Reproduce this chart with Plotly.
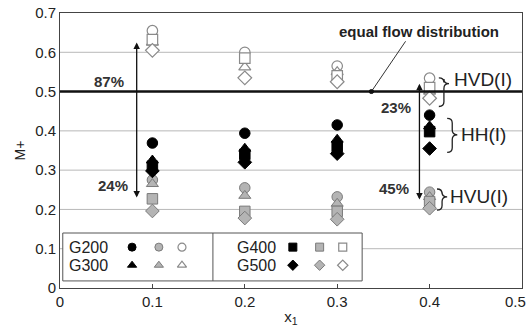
import plotly.graph_objects as go

# ---- data ----
x_vals = [0.1, 0.2, 0.3, 0.4]
groups = ["G200", "G300", "G400", "G500"]
symbols = {"G200": "circle", "G300": "triangle-up", "G400": "square", "G500": "diamond"}

# HH(I): black filled markers
hh = {
    "G200": [0.369, 0.394, 0.415, 0.440],
    "G300": [0.325, 0.355, 0.378, 0.412],
    "G400": [0.310, 0.340, 0.360, 0.398],
    "G500": [0.298, 0.320, 0.342, 0.355],
}
# HVU(I): grey filled markers
hvu = {
    "G200": [0.275, 0.255, 0.232, 0.244],
    "G300": [0.265, 0.235, 0.215, 0.232],
    "G400": [0.227, 0.195, 0.195, 0.220],
    "G500": [0.196, 0.178, 0.175, 0.203],
}
# HVD(I): open markers
hvd = {
    "G200": [0.655, 0.600, 0.565, 0.534],
    "G300": [0.625, 0.562, 0.550, 0.500],
    "G400": [0.632, 0.585, 0.540, 0.510],
    "G500": [0.605, 0.535, 0.525, 0.483],
}
y_ticks = [0, 0.1, 0.2, 0.3, 0.4, 0.5, 0.6, 0.7]
y_labels = ["0", "0.1", "0.2", "0.3", "0.4", "0.5", "0.6", "0.7"]
x_ticks = [0, 0.1, 0.2, 0.3, 0.4]
x_labels = ["0", "0.1", "0.2", "0.3", "0.4"]
x_last_tick, x_last_label = 0.5, "0.5"

BLACK = dict(color="black", line=dict(color="black", width=1))
GREY = dict(color="#b4b4b4", line=dict(color="#7a7a7a", width=1))
WHITE = dict(color="white", line=dict(color="#8a8a8a", width=1.2))

FONT = "Liberation Sans, Arial, sans-serif"
fig = go.Figure()
anns = []
shapes = []

for data, style in [(hvd, WHITE), (hvu, GREY), (hh, BLACK)]:
    for g in groups:
        fig.add_trace(go.Scatter(
            x=x_vals, y=data[g], mode="markers", showlegend=False,
            marker=dict(symbol=symbols[g], size=10.5, **style)))

# custom legend content
leg_rows = [("G200", 0.104, 0.008), ("G300", 0.058, 0.008), ("G400", 0.104, 0.189), ("G500", 0.058, 0.189)]
leg_mx = {0.008: [0.078, 0.107, 0.132], 0.189: [0.252, 0.281, 0.306]}
for g, yy, xx in leg_rows:
    anns.append(dict(x=xx, y=yy, xref="x", yref="y", text=g, showarrow=False, xanchor="left",
                     yanchor="middle", font=dict(family=FONT, size=16, color="#222")))
    for mx, style in zip(leg_mx[xx], [BLACK, GREY, WHITE]):
        fig.add_trace(go.Scatter(x=[mx], y=[yy], mode="markers", showlegend=False,
                                 marker=dict(symbol=symbols[g], size=8, **style)))

# grid lines
for t in y_ticks[1:-1]:
    shapes.append(dict(type="line", xref="x", yref="y", x0=0, x1=0.5, y0=t, y1=t,
                       line=dict(color="#b8b8b8", width=1), layer="below"))
# legend box
shapes.append(dict(type="rect", xref="x", yref="y", x0=0.003, x1=0.327, y0=0.018, y1=0.14,
                   line=dict(color="#555", width=1), fillcolor="white", layer="below"))
shapes.append(dict(type="line", xref="x", yref="y", x0=0.1655, x1=0.1655, y0=0.018, y1=0.14,
                   line=dict(color="#555", width=1)))
# equal flow line
shapes.append(dict(type="line", xref="x", yref="y", x0=0, x1=0.5, y0=0.5, y1=0.5,
                   line=dict(color="#111", width=2.5)))
# pointer line
shapes.append(dict(type="line", xref="x", yref="y", x0=0.337, x1=0.374, y0=0.5, y1=0.628,
                   line=dict(color="#333", width=1)))
shapes.append(dict(type="circle", xref="x", yref="y", x0=0.3345, x1=0.3395, y0=0.495, y1=0.505,
                   line=dict(color="#111", width=1), fillcolor="#111"))

def brace(x0, w, y0, y1, ym, d=0.012):
    xm = x0 + w / 2
    return (f"M {x0},{y1} Q {xm},{y1} {xm},{y1-d} L {xm},{ym+d} Q {xm},{ym} {x0+w},{ym} "
            f"Q {xm},{ym} {xm},{ym-d} L {xm},{y0+d} Q {xm},{y0} {x0},{y0}")

for bx, by0, by1, bym in [(0.410, 0.462, 0.535, 0.52), (0.419, 0.345, 0.432, 0.39), (0.408, 0.198, 0.252, 0.232)]:
    shapes.append(dict(type="path", xref="x", yref="y", path=brace(bx, 0.011, by0, by1, bym),
                       line=dict(color="#222", width=1.3)))

# arrows
for ax_x, ylo, yhi in [(0.083, 0.225, 0.625), (0.389, 0.22, 0.52)]:
    anns.append(dict(x=ax_x, y=yhi, ax=ax_x, ay=ylo, xref="x", yref="y", axref="x", ayref="y",
                     showarrow=True, arrowhead=2, arrowsize=1.0, arrowwidth=1.3, arrowcolor="#111",
                     arrowside="end+start", text=" ", font=dict(size=1)))
for txt, tx, ty in [("87%", 0.053, 0.525), ("24%", 0.057, 0.262), ("23%", 0.364, 0.46), ("45%", 0.361, 0.254)]:
    anns.append(dict(x=tx, y=ty, text="<b>" + txt + "</b>", showarrow=False, xref="x", yref="y",
                     font=dict(family=FONT, size=15, color="#333")))
anns.append(dict(x=0.389, y=0.652, text="<b>equal flow distribution</b>", showarrow=False,
                 xref="x", yref="y", font=dict(family=FONT, size=15, color="#222")))
for txt, tx, ty in [("HVD(I)", 0.424, 0.53), ("HH(I)", 0.432, 0.39), ("HVU(I)", 0.42, 0.232)]:
    anns.append(dict(x=tx, y=ty, text=txt, showarrow=False, xanchor="left", xref="x", yref="y",
                     font=dict(family=FONT, size=19, color="#222")))
# last x tick label (placed so it stays inside the page like the reference)
anns.append(dict(x=x_last_tick, y=0, xref="x", yref="paper", text=x_last_label, showarrow=False,
                 xanchor="right", yanchor="top", xshift=6, yshift=-3,
                 font=dict(family=FONT, size=15, color="#222")))

fig.update_layout(
    width=527, height=330, margin=dict(l=60, r=5, t=13, b=42),
    plot_bgcolor="white", paper_bgcolor="white",
    font=dict(family=FONT, size=15, color="#222"),
    shapes=shapes, annotations=anns,
    xaxis=dict(range=[0, 0.5], tickvals=x_ticks, ticktext=x_labels,
               showgrid=False, zeroline=False, showline=True, mirror=True, linecolor="#444", linewidth=1,
               ticks="inside", ticklen=4, tickcolor="#444",
               title=dict(text="x<sub>1</sub>", standoff=2, font=dict(size=15))),
    yaxis=dict(range=[0, 0.7], tickvals=y_ticks, ticktext=y_labels,
               showgrid=False, zeroline=False, showline=True, mirror=True, linecolor="#444", linewidth=1,
               ticks="", title=dict(text="M+", standoff=6, font=dict(size=14))),
)
fig.write_html("out.html", config={"displayModeBar": False},
               post_script="document.body.style.margin='0';")
